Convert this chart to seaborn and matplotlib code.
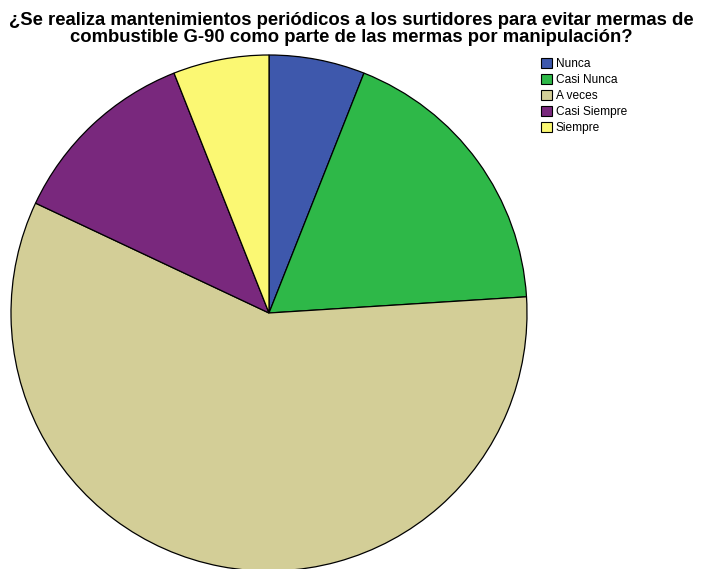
import matplotlib
matplotlib.use("Agg")
import matplotlib.pyplot as plt
import seaborn as sns

# Response categories and their counts
categories = ["Nunca", "Casi Nunca", "A veces", "Casi Siempre", "Siempre"]
counts = [3, 9, 29, 6, 3]
colors = ["#3E58AC", "#2EB848", "#D3CE97", "#79287D", "#FBF873"]

title = ("¿Se realiza mantenimientos periódicos a los surtidores para evitar mermas de\n"
         "combustible G-90 como parte de las mermas por manipulación?")

sns.set_theme(style="white")
plt.rcParams["font.family"] = ["Liberation Sans", "DejaVu Sans"]
plt.rcParams["text.color"] = "black"

W, H = 703, 569
fig = plt.figure(figsize=(W / 100, H / 100), dpi=100)
fig.patch.set_facecolor("white")

# Axes spanning the whole figure, with data units equal to pixels
ax = fig.add_axes([0, 0, 1, 1])
cx, cy, r = 269, 313, 258

wedges, _ = ax.pie(
    counts,
    colors=colors,
    startangle=90,
    counterclock=False,
    radius=r,
    center=(0, 0),
    wedgeprops=dict(edgecolor="black", linewidth=0.9),
    frame=False,
)
ax.set_xlim(-cx, W - cx)
ax.set_ylim(-(H - cy), cy)
ax.set_aspect("equal")
ax.axis("off")

fig.text(0.5, 1 - 12 / H, title, ha="center", va="top", fontsize=13.3,
         fontweight="bold", linespacing=1.02, color="black")

leg = fig.legend(
    wedges, categories,
    loc="upper left",
    bbox_to_anchor=(536 / W, 1 - 53 / H),
    frameon=False,
    fontsize=8.6,
    handlelength=0.95,
    handleheight=0.95,
    handletextpad=0.3,
    labelspacing=0.32,
    borderaxespad=0,
)
for t in leg.get_texts():
    t.set_color("black")
for h in leg.legend_handles:
    h.set_edgecolor("black")
    h.set_linewidth(0.8)

fig.savefig("out.png", dpi=100)
